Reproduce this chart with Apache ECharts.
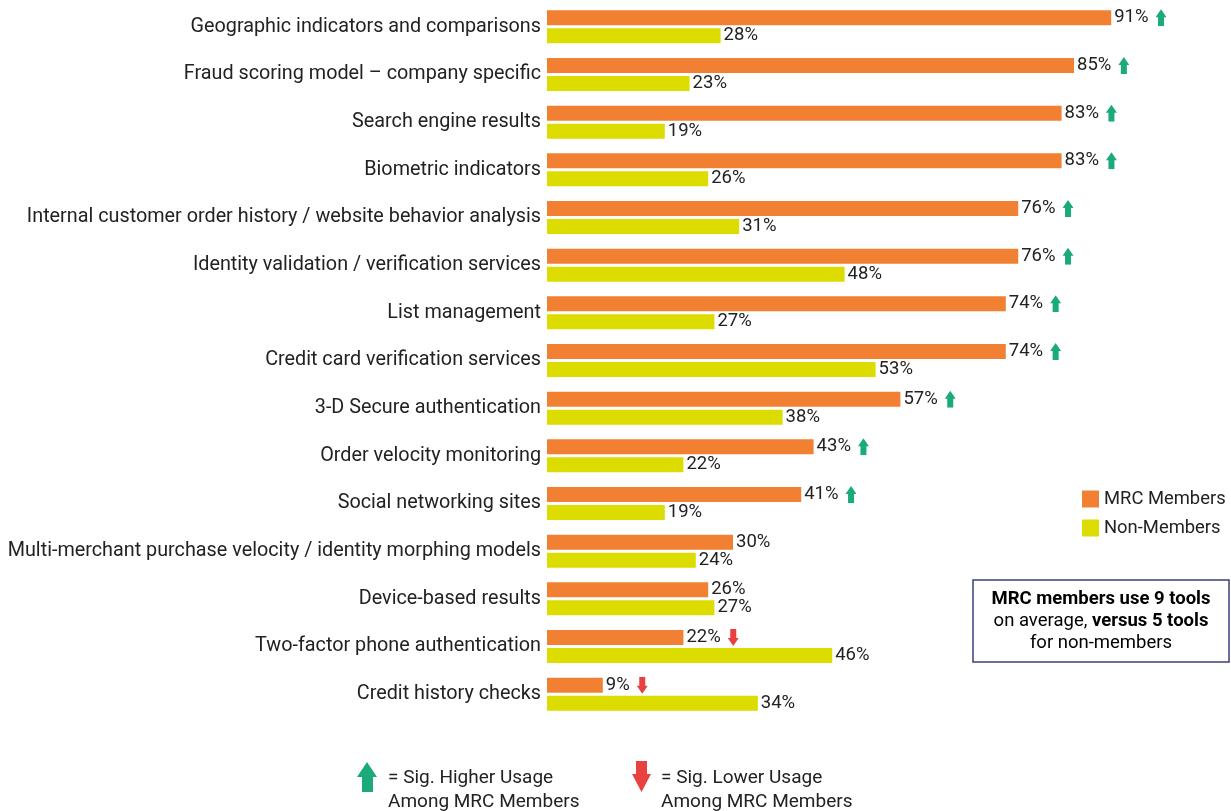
<!DOCTYPE html>
<html>
<head>
<meta charset="utf-8">
<script src="https://cdn.jsdelivr.net/npm/echarts@6/dist/echarts.min.js"></script>
<style>
  html, body { margin: 0; padding: 0; background: #fff; }
  #chart { width: 1231px; height: 811px; }
</style>
</head>
<body>
<div id="chart"></div>
<script>
// tools, top to bottom
const categories = [
  'Geographic indicators and comparisons',
  'Fraud scoring model \u2013 company specific',
  'Search engine results',
  'Biometric indicators',
  'Internal customer order history / website behavior analysis',
  'Identity validation / verification services',
  'List management',
  'Credit card verification services',
  '3-D Secure authentication',
  'Order velocity monitoring',
  'Social networking sites',
  'Multi-merchant purchase velocity / identity morphing models',
  'Device-based results',
  'Two-factor phone authentication',
  'Credit history checks'
]
const mrcMembers = [91, 85, 83, 83, 76, 76, 74, 74, 57, 43, 41, 30, 26, 22, 9]
const nonMembers = [28, 23, 19, 26, 31, 48, 27, 53, 38, 22, 19, 24, 27, 46, 34]
// significance vs non-members: 1 higher, -1 lower, 0 none
const sigFlags = [1, 1, 1, 1, 1, 1, 1, 1, 1, 1, 1, 0, 0, -1, -1]

const ORANGE = '#f28032'
const YELLOW = '#dcdc00'
const GREEN = '#1aab78'
const RED = '#e8413f'

function arrowImg(color, down) {
  const pts = down
    ? '2.5,0 8.5,0 8.5,9 11,9 5.5,17 0,9 2.5,9'
    : '5.5,0 11,8 8.5,8 8.5,17 2.5,17 2.5,8 0,8'
  const svg = '<svg xmlns="http://www.w3.org/2000/svg" width="11" height="17" viewBox="0 0 11 17">' +
    '<polygon points="' + pts + '" fill="' + color + '"/></svg>'
  return 'data:image/svg+xml;utf8,' + encodeURIComponent(svg)
}
const upImg = arrowImg(GREEN, false)
const downImg = arrowImg(RED, true)

const myChart = echarts.init(document.getElementById('chart'))

const option = {
  animation: false,
  textStyle: { fontFamily: 'Roboto' },
  grid: { left: 547, top: 3, right: 64, bottom: 93 },
  legend: {
    orient: 'vertical',
    left: 1077,
    top: 485,
    icon: 'rect',
    itemWidth: 17,
    itemHeight: 17,
    itemGap: 11,
    textStyle: { fontSize: 18.4, color: '#222', fontFamily: 'Roboto' },
    data: ['MRC Members', 'Non-Members']
  },
  xAxis: { type: 'value', min: 0, max: 100, show: false },
  yAxis: {
    type: 'category',
    inverse: true,
    data: categories,
    axisLine: { show: false },
    axisTick: { show: false },
    axisLabel: {
      margin: 6,
      fontSize: 19.8,
      color: '#222',
      fontFamily: 'Roboto',
      padding: [0, 0, 5, 0]
    }
  },
  series: [
    {
      name: 'MRC Members',
      type: 'bar',
      data: mrcMembers,
      barWidth: 15,
      barGap: '20%',
      itemStyle: { color: ORANGE },
      label: {
        show: true,
        position: 'right',
        distance: 3,
        fontSize: 18.5,
        color: '#222',
        formatter: function (p) {
          const f = sigFlags[p.dataIndex]
          return p.value + '%' + (f > 0 ? '{sp|}{up|}' : f < 0 ? '{sp|}{down|}' : '')
        },
        rich: {
          sp: { width: 7, height: 17 },
          up: { width: 11, height: 17, backgroundColor: { image: upImg } },
          down: { width: 11, height: 17, backgroundColor: { image: downImg } }
        }
      }
    },
    {
      name: 'Non-Members',
      type: 'bar',
      data: nonMembers,
      barWidth: 15,
      itemStyle: { color: YELLOW },
      label: {
        show: true,
        position: 'right',
        distance: 3,
        fontSize: 18.5,
        color: '#222',
        formatter: '{c}%'
      }
    }
  ],
  graphic: [
    {
      type: 'rect',
      shape: { x: 973, y: 580, width: 256, height: 82 },
      style: { fill: '#fff', stroke: '#3b3f7a', lineWidth: 1.5 }
    },
    {
      type: 'text',
      x: 1101,
      y: 621,
      style: {
        text: '{b|MRC members use 9 tools}\n{n|on average, }{b|versus 5 tools}\n{n|for non-members}',
        align: 'center',
        verticalAlign: 'middle',
        fontFamily: 'Roboto',
        rich: {
          b: { fontSize: 18.5, fontWeight: 'bold', color: '#111', lineHeight: 22, fontFamily: 'Roboto' },
          n: { fontSize: 18.5, color: '#222', lineHeight: 22, fontFamily: 'Roboto' }
        }
      }
    },
    {
      type: 'polygon',
      shape: { points: [[367, 762], [377, 777], [373, 777], [373, 792], [362, 792], [362, 777], [357, 777]] },
      style: { fill: GREEN }
    },
    {
      type: 'text',
      x: 388,
      y: 766,
      style: {
        text: '= Sig. Higher Usage\nAmong MRC Members',
        fontSize: 19, lineHeight: 24, fill: '#222', fontFamily: 'Roboto',
        verticalAlign: 'top'
      }
    },
    {
      type: 'polygon',
      shape: { points: [[636, 761], [647, 761], [647, 774], [651, 774], [641.5, 792], [632, 774], [636, 774]] },
      style: { fill: RED }
    },
    {
      type: 'text',
      x: 661,
      y: 766,
      style: {
        text: '= Sig. Lower Usage\nAmong MRC Members',
        fontSize: 19, lineHeight: 24, fill: '#222', fontFamily: 'Roboto',
        verticalAlign: 'top'
      }
    }
  ]
}

myChart.setOption(option)
</script>
</body>
</html>
